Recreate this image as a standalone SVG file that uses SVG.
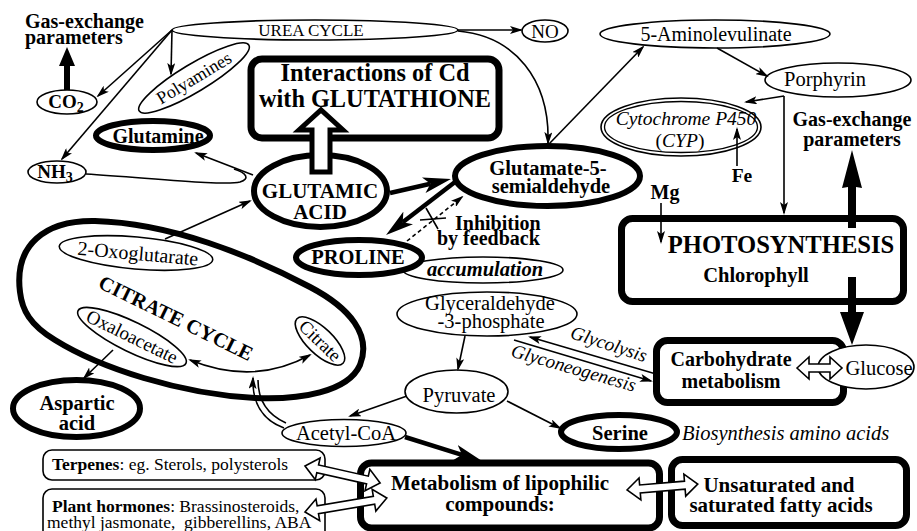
<svg xmlns="http://www.w3.org/2000/svg" width="917" height="531" viewBox="0 0 917 531">
<defs>
<style>
text{font-family:"Liberation Serif","Times New Roman",serif;fill:#000}
.b{font-weight:bold}
.i{font-style:italic}
.n{fill:#fff;stroke:#000;stroke-width:1.6}
.k{fill:#fff;stroke:#000;stroke-width:6}
.bx{fill:#fff;stroke:#000;stroke-width:7}
.c{fill:none;stroke:#000;stroke-width:1.6}
.th{fill:none;stroke:#000;stroke-width:4.5}
.h{fill:#fff;stroke:#000;stroke-width:1.6;stroke-linejoin:miter}
.m{text-anchor:middle}
</style>
<marker id="a" markerWidth="13" markerHeight="8" refX="11" refY="4" orient="auto" markerUnits="userSpaceOnUse"><path d="M0,0 L13,4 L0,8 L3,4 z"/></marker>
<marker id="a2" markerWidth="13" markerHeight="8" refX="11" refY="4" orient="auto-start-reverse" markerUnits="userSpaceOnUse"><path d="M0,0 L13,4 L0,8 L3,4 z"/></marker>
<marker id="t" markerWidth="28" markerHeight="16" refX="7" refY="8" orient="auto" markerUnits="userSpaceOnUse"><path d="M0,0 L28,8 L0,16 L7,8 z"/></marker>
</defs>
<rect width="917" height="531" fill="#fff"/>

<!-- nodes -->
<g id="citrate-cycle">
<path d="M20,292 C14,245 45,220 95,221 C170,223 250,255 310,287 C350,308 372,335 360,365 C348,392 300,400 255,398 C180,394 100,368 55,340 C30,325 22,310 20,292 Z" class="k"/>
<text class="b m" font-size="20.5" transform="rotate(26 176 318)" x="176" y="325">CITRATE CYCLE</text>
</g>
<g id="gas-left"><text class="b" font-size="20" x="25" y="28">Gas-exchange</text><text class="b" font-size="20" x="25" y="44">parameters</text></g>
<g id="co2"><ellipse cx="67" cy="102" rx="30" ry="12" class="n" stroke-width="2"/><text class="b m" font-size="19" x="66" y="108">CO<tspan dy="4" font-size="14">2</tspan></text></g>
<g id="urea"><ellipse cx="315" cy="30" rx="143" ry="10" class="n"/><text class="m" font-size="17" x="311" y="36">UREA CYCLE</text></g>
<g id="no"><ellipse cx="545" cy="31" rx="23" ry="11" class="n"/><text class="m" font-size="19" x="545" y="38">NO</text></g>
<g id="polyamines" transform="rotate(-31 194 78)"><ellipse cx="194" cy="78" rx="64" ry="14" class="n"/><text class="m" font-size="18" x="194" y="84">Polyamines</text></g>
<g id="interactions"><rect x="251" y="59" width="248" height="79" rx="11" class="bx" stroke-width="7.5"/><text class="b m" font-size="24.3" x="375" y="81">Interactions of Cd</text><text class="b m" font-size="24.3" x="375" y="107">with GLUTATHIONE</text></g>
<g id="glutamine"><ellipse cx="153" cy="135.5" rx="57" ry="14.5" class="k"/><text class="b m" font-size="20" x="158" y="143">Glutamine</text></g>
<g id="nh3"><ellipse cx="57" cy="172" rx="29" ry="11" class="n" stroke-width="2"/><text class="b m" font-size="19" x="55" y="178">NH<tspan dy="4" font-size="14">3</tspan></text></g>
<g id="glutamic"><ellipse cx="320.5" cy="191" rx="66.5" ry="36" class="k"/><text class="b m" font-size="21" x="320" y="198">GLUTAMIC</text><text class="b m" font-size="21" x="320" y="219">ACID</text></g>
<g id="g5s"><ellipse cx="547.5" cy="176" rx="92.5" ry="30" class="k"/><text class="b m" font-size="20.5" x="548" y="175">Glutamate-5-</text><text class="b m" font-size="20.5" x="551" y="193">semialdehyde</text></g>
<g id="accumulation"><ellipse cx="483" cy="270" rx="80" ry="13" class="n"/><text class="b i m" font-size="20.5" x="485" y="276">accumulation</text></g>
<g id="proline"><ellipse cx="359" cy="257.5" rx="63" ry="17.5" class="k"/><text class="b m" font-size="20.5" x="358" y="264">PROLINE</text></g>
<g id="aminolevulinate"><ellipse cx="715" cy="34" rx="115" ry="14" class="n"/><text class="m" font-size="20" x="716" y="41">5-Aminolevulinate</text></g>
<g id="porphyrin"><ellipse cx="838" cy="80" rx="73" ry="17" class="n"/><text class="m" font-size="20.5" x="825" y="86">Porphyrin</text></g>
<g id="cyp"><ellipse cx="681" cy="127" rx="80" ry="29" class="n" stroke-width="1.3"/><ellipse cx="681" cy="127" rx="76.5" ry="25.5" fill="none" stroke="#000" stroke-width="1.3"/><text class="i m" font-size="19.5" x="686" y="125">Cytochrome P450</text><text class="m" font-size="19.5" x="680" y="147">(<tspan font-style="italic">CYP</tspan>)</text></g>
<g id="fe"><text class="b m" font-size="19.5" x="742" y="182">Fe</text></g>
<g id="mg"><text class="b m" font-size="20" x="665" y="199">Mg</text></g>
<g id="gas-right"><text class="b m" font-size="20" x="852" y="126">Gas-exchange</text><text class="b m" font-size="20" x="852" y="146">parameters</text></g>
<g id="photosynthesis"><rect x="621.5" y="218.5" width="282" height="83" rx="11" class="bx"/><text class="b m" font-size="24.6" x="781" y="253">PHOTOSYNTHESIS</text><text class="b m" font-size="20.5" x="756" y="282">Chlorophyll</text></g>
<g id="oxoglutarate" transform="rotate(5 136 253)"><ellipse cx="136" cy="253" rx="77" ry="16" class="n"/><text class="m" font-size="20" x="138" y="260">2-Oxoglutarate</text></g>
<g id="oxaloacetate" transform="rotate(26 132 337)"><ellipse cx="132" cy="337" rx="60" ry="15" class="n"/><text class="m" font-size="19" x="132" y="343">Oxaloacetate</text></g>
<g id="citrate" transform="rotate(44 320 341)"><ellipse cx="320" cy="341" rx="32" ry="13" class="n"/><text class="m" font-size="18.5" x="320" y="347">Citrate</text></g>
<g id="aspartic"><ellipse cx="76.5" cy="408.5" rx="63.5" ry="28.5" class="k"/><text class="b m" font-size="20.5" x="77" y="410">Aspartic</text><text class="b m" font-size="20.5" x="77" y="430">acid</text></g>
<g id="g3p"><ellipse cx="487" cy="314" rx="90" ry="22" class="n"/><text class="m" font-size="20.5" x="490" y="310">Glyceraldehyde</text><text class="m" font-size="20.5" x="491" y="328">-3-phosphate</text></g>
<g id="pyruvate"><ellipse cx="456.5" cy="391.5" rx="51.5" ry="21.5" class="n"/><text class="m" font-size="20.5" x="459" y="402">Pyruvate</text></g>
<g id="acetylcoa"><ellipse cx="344" cy="433" rx="62" ry="13.5" class="n"/><text class="m" font-size="20.5" x="346" y="440">Acetyl-CoA</text></g>
<g id="serine"><ellipse cx="619" cy="432" rx="58" ry="17" class="k"/><text class="b m" font-size="20.5" x="620" y="440">Serine</text></g>
<g id="biosynthesis"><text class="i" font-size="20.5" x="682" y="440">Biosynthesis amino acids</text></g>
<g id="carbohydrate"><rect x="656.5" y="340.5" width="187" height="62" rx="11" class="bx"/><text class="b m" font-size="20" x="731" y="366">Carbohydrate</text><text class="b m" font-size="20" x="731" y="388">metabolism</text></g>
<g id="glucose"><ellipse cx="866" cy="367" rx="48" ry="22" class="n"/><text class="m" font-size="20.5" x="879" y="375">Glucose</text></g>
<g id="terpenes"><rect x="43" y="450" width="282" height="30" rx="9" class="n"/><text font-size="17.5" x="52" y="470"><tspan font-weight="bold">Terpenes</tspan>: eg. Sterols, polysterols</text></g>
<g id="hormones"><rect x="43" y="489" width="282" height="60" rx="9" class="n"/><text font-size="17.5" x="52" y="512"><tspan font-weight="bold">Plant hormones</tspan>: Brassinosteroids,</text><text font-size="17.5" x="47" y="528" xml:space="preserve">methyl jasmonate,  gibberellins, ABA</text></g>
<g id="lipophilic"><rect x="360.5" y="463" width="299" height="65" rx="11" class="bx"/><text class="b m" font-size="21" x="500" y="490">Metabolism of lipophilic</text><text class="b m" font-size="21" x="500" y="511">compounds:</text></g>
<g id="fatty"><rect x="671.5" y="459.5" width="235" height="66" rx="11" class="bx"/><text class="b m" font-size="21" x="779" y="492">Unsaturated and</text><text class="b m" font-size="21" x="781" y="512">saturated fatty acids</text></g>

<!-- connectors -->
<g id="connectors">
<path class="c" d="M172,30 L98,96" marker-end="url(#a)"/>
<path class="c" d="M172,30 L171,74" marker-end="url(#a)"/>
<path class="c" d="M172,30 L62,159" marker-end="url(#a)"/>
<path class="c" d="M458,30 L521,30" marker-end="url(#a)"/>
<path class="c" d="M458,31 C515,36 550,80 548,143" marker-end="url(#a)"/>
<path class="c" d="M548,145 L643,47" marker-end="url(#a)"/>
<path class="c" d="M717,48 L767,76" marker-end="url(#a)"/>
<path class="c" d="M784,96 L746,102" marker-end="url(#a)"/>
<path class="c" d="M784,96 L784,213" marker-end="url(#a)"/>
<path class="c" d="M737,166 L737,129" marker-end="url(#a)"/>
<path class="c" d="M661,203 L661,242" marker-end="url(#a)"/>
<path d="M64,90 L64,66 L59,66 L67,47 L75,66 L70,66 L70,90 Z"/>
<path d="M848,228 L848,187 L842,188 L852,150 L862,188 L856,187 L856,228 Z"/>
<path d="M848,277 L848,312 L840,312 L852,345 L864,312 L856,312 L856,277 Z"/>
<path class="c" d="M253,175 L196,153" marker-end="url(#a)"/>
<path class="c" d="M86,174 C150,178 225,186 240,182 C250,179 247,173 234,169"/>
<path class="c" d="M165,239 L250,201" marker-end="url(#a)"/>
<path class="th" d="M390,193 L430.5,183.7" marker-end="url(#t)"/>
<path class="th" d="M455,182 L402.7,222.2" marker-end="url(#t)"/>
<path class="th" d="M405,437 L462,454.8" stroke-width="5.5" marker-end="url(#t)"/>
<path class="c" d="M407,241 L462,197" stroke-dasharray="4,3" marker-end="url(#a)"/>
<path class="c" d="M426,208 L438,229 M420,220 L446,218"/>
<text class="b" font-size="20" x="455" y="230">Inhibition</text>
<text class="b" font-size="20" x="437" y="245">by feedback</text>
<path class="c" d="M190,360 Q254,386 310,355" marker-start="url(#a2)" marker-end="url(#a2)"/>
<path class="c" d="M253,378 C252,402 262,420 284,428" marker-start="url(#a2)"/>
<path class="c" d="M258,380 C258,398 266,414 286,423"/>
<path class="c" d="M113,350 L84,378" marker-end="url(#a)"/>
<path class="c" d="M465,336 L458,369" marker-end="url(#a)"/>
<path class="c" d="M407,396 L350,416" marker-end="url(#a)"/>
<path class="c" d="M507,401 L560,428" marker-end="url(#a)"/>
<path class="c" d="M656,374 L530,337" marker-end="url(#a)"/>
<path class="c" d="M514,340 L651,381" marker-end="url(#a)"/>
<text class="i m" font-size="19" transform="rotate(18 607 350)" x="607" y="350">Glycolysis</text>
<text class="i m" font-size="19" transform="rotate(16 572 374)" x="572" y="374">Glyconeogenesis</text>
<path class="h" transform="translate(305,466) rotate(12.7)" d="M0,0 L13,-11 L13,-4 L64,-4 L64,-11 L77,0 L64,11 L64,4 L13,4 L13,11 Z"/>
<path class="h" transform="translate(305,512) rotate(-9.7)" d="M0,0 L13,-11 L13,-4 L70,-4 L70,-11 L83,0 L70,11 L70,4 L13,4 L13,11 Z"/>
<path class="h" transform="translate(627,490) rotate(-4.8)" d="M0,0 L13,-11 L13,-4 L58,-4 L58,-11 L71,0 L58,11 L58,4 L13,4 L13,11 Z"/>
<path class="h" transform="translate(797,368)" d="M0,0 L12,-11 L12,-4 L33,-4 L33,-11 L45,0 L33,11 L33,4 L12,4 L12,11 Z"/>
<path d="M312,172 L312,130 L299,130 L321,110 L343,130 L330,130 L330,172 Z" fill="#fff" stroke="#000" stroke-width="5" stroke-linejoin="miter"/>
</g>
</svg>
